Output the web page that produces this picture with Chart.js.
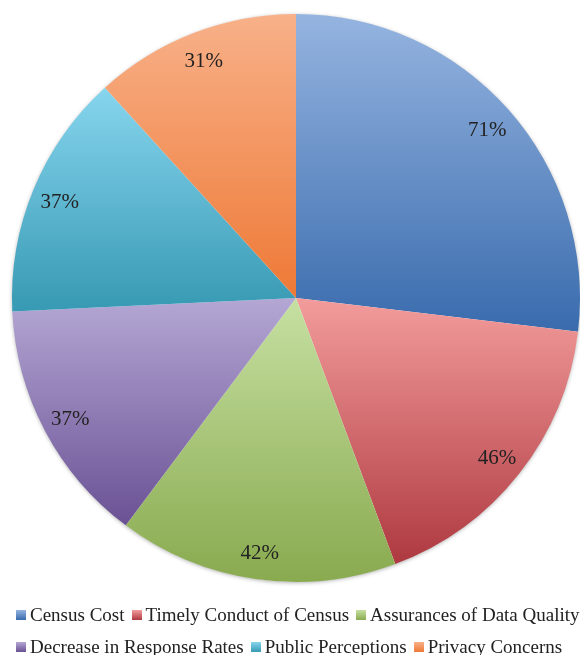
<!DOCTYPE html>
<html>
<head>
<meta charset="utf-8">
<script src="https://cdn.jsdelivr.net/npm/chart.js@4/dist/chart.umd.min.js"></script>
<style>
  html, body { margin: 0; padding: 0; background: #fff; }
  #wrap { width: 580px; height: 655px; position: relative; overflow: hidden; }
  canvas { display: block; }
  #legend {
    width: 584px; margin-top: -1px; padding-left: 16px; box-sizing: border-box;
    display: flex; flex-wrap: wrap; justify-content: flex-start; column-gap: 7px;
    font-family: "Liberation Serif", "Times New Roman", serif;
    font-size: 19px; color: #222; line-height: 32px;
  }
  #legend .item { display: flex; align-items: center; white-space: nowrap; }
  #legend .box { width: 10px; height: 10px; margin-right: 4px; }
</style>
</head>
<body>
<div id="wrap">
  <canvas id="chart" width="580" height="600"></canvas>
  <div id="legend"></div>
</div>
<script>
// Survey concerns (percent of respondents)
const categories = [
  'Census Cost',
  'Timely Conduct of Census',
  'Assurances of Data Quality',
  'Decrease in Response Rates',
  'Public Perceptions',
  'Privacy Concerns'
];
const values = [71, 46, 42, 37, 37, 31];
const valueLabels = ['71%', '46%', '42%', '37%', '37%', '31%'];

// light (top) and dark (bottom) stops of each slice's shading
const lightColors = ['#95B4E0', '#F39C9C', '#C6E0A2', '#B4A7D4', '#87D5EE', '#F8B189'];
const darkColors  = ['#396BAD', '#AE3940', '#89AA4F', '#6A5194', '#3799B3', '#EE7936'];

// vertical gradient spanning each slice's own bounding box
const sliceShading = {
  id: 'sliceShading',
  beforeDatasetsDraw(chart) {
    const ctx = chart.ctx;
    const meta = chart.getDatasetMeta(0);
    meta.data.forEach((arc, i) => {
      const { x, y, startAngle, endAngle, outerRadius } = arc.getProps(['x', 'y', 'startAngle', 'endAngle', 'outerRadius'], true);
      let yMin = y, yMax = y;
      const steps = 90;
      for (let s = 0; s <= steps; s++) {
        const a = startAngle + (endAngle - startAngle) * s / steps;
        const py = y + outerRadius * Math.sin(a);
        yMin = Math.min(yMin, py);
        yMax = Math.max(yMax, py);
      }
      const g = ctx.createLinearGradient(0, yMin, 0, yMax);
      g.addColorStop(0, lightColors[i]);
      g.addColorStop(1, darkColors[i]);
      arc.options.backgroundColor = g;
    });
    // soft rim shadow under the pie
    const a0 = meta.data[0];
    if (a0) {
      ctx.save();
      ctx.beginPath();
      ctx.arc(a0.x, a0.y, a0.outerRadius - 0.5, 0, Math.PI * 2);
      ctx.shadowColor = 'rgba(0,0,0,0.35)';
      ctx.shadowBlur = 4;
      ctx.shadowOffsetY = 1;
      ctx.fillStyle = '#ffffff';
      ctx.fill();
      ctx.restore();
    }
  }
};

// percentage labels placed inside each slice
const sliceLabels = {
  id: 'sliceLabels',
  afterDatasetsDraw(chart) {
    const ctx = chart.ctx;
    const meta = chart.getDatasetMeta(0);
    ctx.save();
    ctx.font = '21px "Liberation Serif", "Times New Roman", serif';
    ctx.fillStyle = '#222222';
    ctx.textAlign = 'center';
    ctx.textBaseline = 'middle';
    meta.data.forEach((arc, i) => {
      const mid = (arc.startAngle + arc.endAngle) / 2;
      const d = arc.outerRadius * 0.9;
      ctx.fillText(valueLabels[i], arc.x + d * Math.cos(mid), arc.y + d * Math.sin(mid) + 2);
    });
    ctx.restore();
  }
};

const chart = new Chart(document.getElementById('chart'), {
  type: 'pie',
  data: {
    labels: categories,
    datasets: [{
      data: values,
      backgroundColor: darkColors,
      borderWidth: 0
    }]
  },
  options: {
    responsive: false,
    animation: false,
    layout: { padding: { left: 12, right: 0, top: 14, bottom: 18 } },
    plugins: {
      legend: { display: false },
      tooltip: { enabled: false }
    }
  },
  plugins: [sliceShading, sliceLabels]
});

// HTML legend built from the chart's own label list
const legendEl = document.getElementById('legend');
Chart.overrides.pie.plugins.legend.labels.generateLabels(chart).forEach((item) => {
  const div = document.createElement('div');
  div.className = 'item';
  const box = document.createElement('span');
  box.className = 'box';
  box.style.background = 'linear-gradient(' + lightColors[item.index] + ', ' + darkColors[item.index] + ')';
  const txt = document.createElement('span');
  txt.textContent = item.text;
  div.appendChild(box);
  div.appendChild(txt);
  legendEl.appendChild(div);
});
</script>
</body>
</html>
